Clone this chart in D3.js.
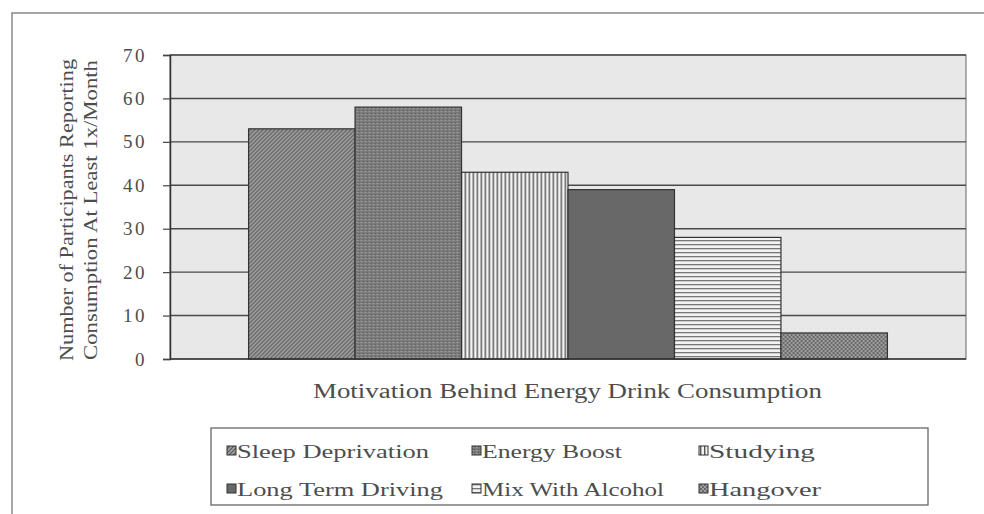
<!DOCTYPE html>
<html>
<head>
<meta charset="utf-8">
<script src="https://cdn.jsdelivr.net/npm/d3@7"></script>
<style>
  body { margin: 0; background: #fff; }
  svg { display: block; }
</style>
</head>
<body>
<svg id="chart" width="984" height="514"></svg>
<script>
// data
const categories = ["Motivation Behind Energy Drink Consumption"];
const seriesNames = ["Sleep Deprivation", "Energy Boost", "Studying",
                     "Long Term Driving", "Mix With Alcohol", "Hangover"];
const seriesValues = [53, 58, 43, 39, 28, 6];
const yTicks = [0, 10, 20, 30, 40, 50, 60, 70];
const yTitle = ["Number of Participants Reporting", "Consumption At Least 1x/Month"];

const FONT = "'Liberation Serif', 'Times New Roman', Times, serif";
const INK = "#4d4d4d";

const svg = d3.select("#chart");
const W = 984, H = 514;
const plot = { left: 170, right: 966, top: 55, bottom: 359 };

// patterns for the bars (scanned b/w print look)
const defs = svg.append("defs");
function pat(id, w, h, bg, draw) {
  const p = defs.append("pattern").attr("id", id)
    .attr("patternUnits", "userSpaceOnUse").attr("width", w).attr("height", h);
  p.append("rect").attr("width", w).attr("height", h).attr("fill", bg);
  draw(p);
}
pat("p0", 4, 4, "#a2a2a2", p => {
  p.append("path").attr("d", "M0,4 L4,0 M-1,1 L1,-1 M3,5 L5,3")
    .attr("stroke", "#555").attr("stroke-width", 1.1);
});
pat("p1", 4, 3, "#7a7a7a", p => {
  p.append("rect").attr("x", 0).attr("y", 0).attr("width", 2).attr("height", 1).attr("fill", "#9a9a9a");
  p.append("rect").attr("x", 2).attr("y", 2).attr("width", 1).attr("height", 1).attr("fill", "#5a5a5a");
});
pat("p2", 4, 4, "#f4f4f4", p => {
  p.append("rect").attr("x", 0).attr("y", 0).attr("width", 1.4).attr("height", 4).attr("fill", "#555");
});
pat("p3", 4, 4, "#686868", p => {});
pat("p4", 4, 4, "#f2f2f2", p => {
  p.append("rect").attr("x", 0).attr("y", 0).attr("width", 4).attr("height", 1.3).attr("fill", "#777");
});
pat("p5", 4, 4, "#a0a0a0", p => {
  p.append("rect").attr("x", 0).attr("y", 0).attr("width", 2).attr("height", 2).attr("fill", "#666");
  p.append("rect").attr("x", 2).attr("y", 2).attr("width", 2).attr("height", 2).attr("fill", "#6a6a6a");
});
const fills = seriesNames.map((d, i) => `url(#p${i})`);

// outer frame (cropped scan)
svg.append("path").attr("d", `M12,${H} L12,13 L${W},13`)
  .attr("fill", "none").attr("stroke", "#888").attr("stroke-width", 1.5);

// scales
const x0 = d3.scaleBand().domain(categories)
  .range([plot.left, plot.right]).paddingOuter(0.123).paddingInner(0);
const x1 = d3.scaleBand().domain(seriesNames)
  .range([0, x0.bandwidth()]).padding(0);
const y = d3.scaleLinear().domain([0, 70]).range([plot.bottom, plot.top]);

// plot area
svg.append("rect")
  .attr("x", plot.left).attr("y", plot.top)
  .attr("width", plot.right - plot.left).attr("height", plot.bottom - plot.top)
  .attr("fill", "#e8e8e8").attr("stroke", "#666").attr("stroke-width", 1);

// gridlines
svg.append("g").selectAll("line").data(yTicks.slice(1)).join("line")
  .attr("x1", plot.left).attr("x2", plot.right)
  .attr("y1", d => y(d)).attr("y2", d => y(d))
  .attr("stroke", "#4a4a4a").attr("stroke-width", 1.4);

// bars
const g = svg.append("g").attr("transform", `translate(${x0(categories[0])},0)`);
g.selectAll("rect").data(seriesValues).join("rect")
  .attr("x", (d, i) => x1(seriesNames[i]))
  .attr("y", d => y(d))
  .attr("width", x1.bandwidth())
  .attr("height", d => y(0) - y(d))
  .attr("fill", (d, i) => fills[i])
  .attr("stroke", "#333").attr("stroke-width", 1.2);

// y axis
const yAxis = d3.axisLeft(y).tickValues(yTicks).tickSize(7).tickPadding(16);
const ya = svg.append("g").attr("transform", `translate(${plot.left},0)`).call(yAxis);
ya.attr("font-family", FONT);
ya.select(".domain").attr("stroke", "#333").attr("stroke-width", 1.5);
ya.selectAll(".tick line").attr("stroke", "#444").attr("stroke-width", 1.2);
ya.selectAll(".tick text")
  .style("font-family", FONT)
  .attr("font-size", 19).attr("fill", INK).attr("letter-spacing", 2.5);

// x baseline
svg.append("line").attr("x1", plot.left).attr("x2", plot.right)
  .attr("y1", y(0)).attr("y2", y(0)).attr("stroke", "#333").attr("stroke-width", 1.5);

// y title (two lines)
yTitle.forEach((t, i) => {
  const cx = 67 + i * 24, cy = 210;
  svg.append("text")
    .attr("transform", `translate(${cx},${cy}) rotate(-90)`)
    .attr("text-anchor", "middle").attr("dy", "0.35em")
    .style("font-family", FONT).attr("fill", INK)
    .attr("font-size", 18)
    .attr("textLength", i === 0 ? 302 : 300).attr("lengthAdjust", "spacingAndGlyphs")
    .text(t);
});

// x title
svg.append("text")
  .attr("x", 313).attr("y", 398)
  .style("font-family", FONT).attr("fill", INK)
  .attr("font-size", 20)
  .attr("textLength", 509).attr("lengthAdjust", "spacingAndGlyphs")
  .text(categories[0]);

// legend
const leg = svg.append("g");
leg.append("rect").attr("x", 211).attr("y", 428).attr("width", 717).attr("height", 77)
  .attr("fill", "#fff").attr("stroke", "#666").attr("stroke-width", 1.3);
const legCols = [227, 472, 699];
const legRows = [451, 489];
const legLens = [192, 140, 106, 206, 182, 112];
seriesNames.forEach((name, i) => {
  const lx = legCols[i % 3], ly = legRows[Math.floor(i / 3)];
  leg.append("rect").attr("x", lx).attr("y", ly - 5).attr("width", 9).attr("height", 9)
    .attr("fill", fills[i]).attr("stroke", "#333").attr("stroke-width", 1);
  leg.append("text").attr("x", lx + 10).attr("y", ly).attr("dy", "0.35em")
    .style("font-family", FONT).attr("fill", INK)
    .attr("font-size", 19)
    .attr("textLength", legLens[i]).attr("lengthAdjust", "spacingAndGlyphs")
    .text(name);
});
</script>
</body>
</html>
